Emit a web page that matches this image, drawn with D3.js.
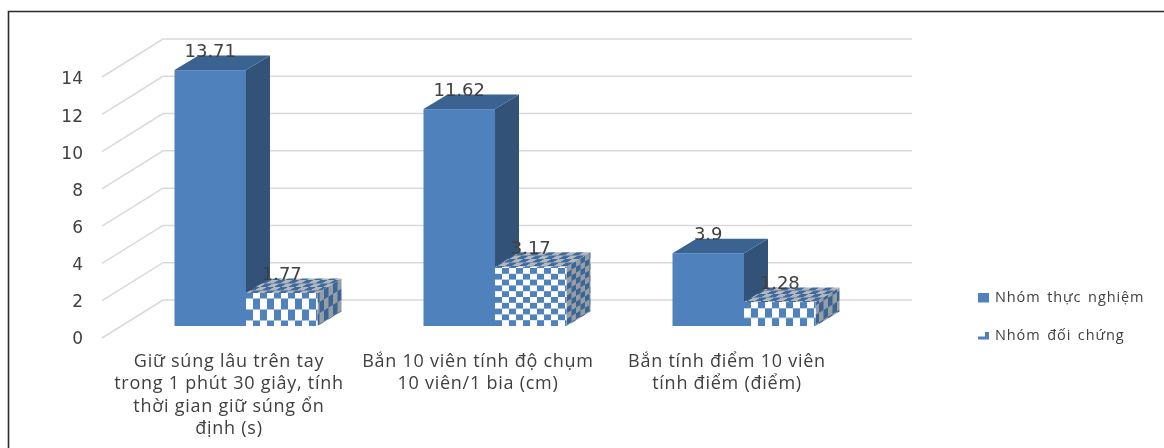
<!DOCTYPE html>
<html>
<head>
<meta charset="utf-8">
<script src="https://cdn.jsdelivr.net/npm/d3@7"></script>
<style>
  html, body { margin: 0; padding: 0; background: #fff; overflow: hidden; }
  svg { display: block; filter: blur(0.6px); }
  text { fill: #404040; }
</style>
</head>
<body>
<svg id="chart" width="1164" height="448"></svg>
<script>
const categories = [
  ["Giữ súng lâu trên tay", "trong 1 phút 30 giây, tính", "thời gian giữ súng ổn", "định (s)"],
  ["Bắn 10 viên tính độ chụm", "10 viên/1 bia (cm)"],
  ["Bắn tính điểm 10 viên", "tính điểm (điểm)"]
];
const seriesNames = ["Nhóm thực nghiệm", "Nhóm đối chứng"];
const experimentValues = [13.71, 11.62, 3.9];
const controlValues = [1.77, 3.17, 1.28];
const yTicks = [0, 2, 4, 6, 8, 10, 12, 14];

const svg = d3.select("#chart");

// frame runs off the right and bottom of the picture
svg.append("path")
  .attr("d", "M1164,11.5H8.5V448")
  .attr("fill", "none")
  .attr("stroke", "#2b2b2b")
  .attr("stroke-width", 1.6);

const depthX = 24, depthY = -14.5;   // 3d offset of a bar
const wallX = 61, wallY = -38;       // floor offset of the back wall

const x = d3.scaleBand().domain(d3.range(categories.length)).range([121.5, 868.5]);
const xSeries = d3.scaleBand().domain(d3.range(2)).range([x.bandwidth() / 2 - 71.5, x.bandwidth() / 2 + 71.5]);
const yBar = d3.scaleLinear().domain([0, 14]).range([326, 64.7]);
const yWall = d3.scaleLinear().domain([0, 14]).range([338, 77]);
const yLabel = d3.scaleLinear().domain([0, 14]).range([338, 78.5]);

// patterns for the control series, the fill gets stretched with the bar in the original
const defs = svg.append("defs");
function checker(id, bg, fg, w, h, matrix) {
  const p = defs.append("pattern")
    .attr("id", id)
    .attr("patternUnits", "userSpaceOnUse")
    .attr("width", w).attr("height", h)
    .attr("patternTransform", matrix);
  p.append("rect").attr("width", w).attr("height", h).attr("fill", bg);
  p.append("rect").attr("width", w / 2).attr("height", h / 2).attr("fill", fg);
  p.append("rect").attr("x", w / 2).attr("y", h / 2).attr("width", w / 2).attr("height", h / 2).attr("fill", fg);
}
const rowPeriod = [22, 11.6, 19];
const rowStart = [298.5, 326, 308.3];
categories.forEach((c, i) => {
  const x0 = x(i) + xSeries(1);
  checker("chkFront" + i, "#ffffff", "#4f81bd", 14, rowPeriod[i], `translate(${x0 + 7},${rowStart[i]})`);
  checker("chkSide" + i, "#979da5", "#3a6595", 9, rowPeriod[i], "matrix(1,-0.604,0,1,0,0)");
});
checker("chkTop", "#b3b8be", "#3f6a9e", 14, 7, "matrix(1,0,-1.655,1,0,0)");

// back wall + side wall gridlines
const grid = svg.append("g").attr("fill", "none").attr("stroke", "#d9d9d9").attr("stroke-width", 1.5);
grid.selectAll("path").data(yTicks).join("path")
  .attr("d", d => {
    const p = d3.path();
    p.moveTo(102, yWall(d));
    p.lineTo(102 + wallX, yWall(d) + wallY);
    p.lineTo(912, yWall(d) + wallY);
    return p.toString();
  });

// y axis labels only
svg.append("g")
  .attr("transform", "translate(83,0)")
  .call(d3.axisLeft(yLabel).tickValues(yTicks).tickSize(0).tickPadding(0))
  .call(g => g.select(".domain").remove())
  .call(g => g.selectAll("text")
    .style("font-family", "'DejaVu Sans'")
    .style("font-size", "17px")
    .style("fill", "#404040"));

function drawBar(g, cat, s, value, front, top, side) {
  const x0 = x(cat) + xSeries(s);
  const x1 = x0 + xSeries.bandwidth();
  const y0 = yBar(0), y1 = yBar(value);
  const poly = pts => "M" + pts.map(p => p.join(",")).join("L") + "Z";
  g.append("path")
    .attr("d", poly([[x1, y1], [x1 + depthX, y1 + depthY], [x1 + depthX, y0 + depthY], [x1, y0]]))
    .attr("fill", side);
  g.append("path")
    .attr("d", poly([[x0, y1], [x0 + depthX, y1 + depthY], [x1 + depthX, y1 + depthY], [x1, y1]]))
    .attr("fill", top);
  g.append("rect")
    .attr("x", x0).attr("y", y1)
    .attr("width", x1 - x0).attr("height", y0 - y1)
    .attr("fill", front);
}

const bars = svg.append("g");
const barLabels = [];
categories.forEach((c, i) => {
  const g = bars.append("g");
  drawBar(g, i, 0, experimentValues[i], "#4f81bd", "#3a6391", "#325278");
  drawBar(g, i, 1, controlValues[i], `url(#chkFront${i})`, "url(#chkTop)", `url(#chkSide${i})`);
  barLabels.push({ cat: i, s: 0, v: experimentValues[i] });
  barLabels.push({ cat: i, s: 1, v: controlValues[i] });
});

svg.append("g").selectAll("text").data(barLabels).join("text")
  .attr("x", d => x(d.cat) + xSeries(d.s) + xSeries.bandwidth() / 2)
  .attr("y", d => yBar(d.v) + depthY + 1.5)
  .attr("text-anchor", "middle")
  .style("font-family", "'DejaVu Sans'")
  .style("font-size", "18px")
  .text(d => d.v);

// category labels
const catLabels = svg.append("g")
  .style("font-family", "'Open Sans'")
  .style("font-size", "18px")
  .style("letter-spacing", "0.75px")
  .attr("text-anchor", "middle");
categories.forEach((lines, i) => {
  catLabels.append("text")
    .attr("y", 367)
    .selectAll("tspan").data(lines).join("tspan")
    .attr("x", x(i) + x.bandwidth() / 2 - 17)
    .attr("dy", (d, k) => k ? 22.3 : 0)
    .text(d => d);
});

// legend
const legend = svg.append("g")
  .style("font-family", "'Open Sans'")
  .style("font-size", "14.5px")
  .style("letter-spacing", "0.9px")
  .style("word-spacing", "2px");
legend.append("rect").attr("x", 978).attr("y", 293).attr("width", 11).attr("height", 9.5).attr("fill", "#4f81bd");
legend.append("path").attr("d", "M978,339.5V336.5H985V332H989V339.5Z").attr("fill", "#4f81bd");
legend.selectAll("text").data(seriesNames).join("text")
  .attr("x", 995)
  .attr("y", (d, i) => 302 + i * 38)
  .text(d => d);
</script>
</body>
</html>
